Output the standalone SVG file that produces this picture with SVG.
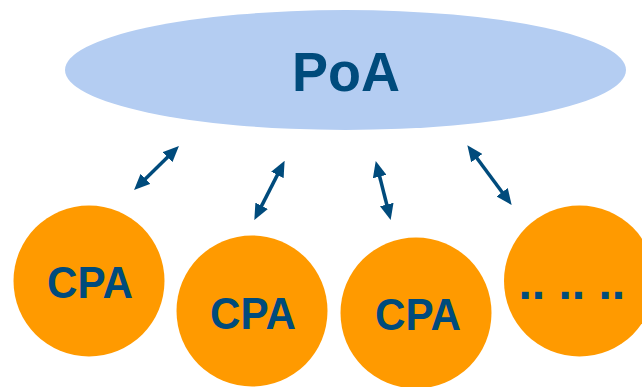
<svg xmlns="http://www.w3.org/2000/svg" width="642" height="387" viewBox="0 0 642 387">
  <style>
    .poa { fill: #b4cdf2; }
    .cpa { fill: #ff9a00; }
    .lbl { font-family: "Liberation Sans", Arial, sans-serif; font-weight: bold; fill: #004b7c; }
    .conn { stroke: #004b7c; stroke-width: 3.5; fill: none; marker-start: url(#ah); marker-end: url(#ah); }
  </style>
  <defs>
    <marker id="ah" markerUnits="userSpaceOnUse" markerWidth="16" markerHeight="14" refX="6" refY="7" orient="auto-start-reverse" viewBox="0 0 16 14">
      <path d="M0,0 L16,7 L0,14 z" fill="#004b7c"/>
    </marker>
  </defs>
  <rect width="642" height="387" fill="#ffffff"/>
  <g id="node-poa">
    <ellipse class="poa" cx="345.5" cy="70" rx="280.5" ry="60"/>
    <text class="lbl" x="346" y="91" font-size="56" text-anchor="middle" textLength="108" lengthAdjust="spacingAndGlyphs">PoA</text>
  </g>
  <g id="node-cpa1">
    <circle class="cpa" cx="89" cy="281" r="75.5"/>
    <text class="lbl" x="90" y="297.5" font-size="44" text-anchor="middle" textLength="86" lengthAdjust="spacingAndGlyphs">CPA</text>
  </g>
  <g id="node-cpa2">
    <circle class="cpa" cx="252" cy="311" r="75.5"/>
    <text class="lbl" x="253" y="328.5" font-size="44" text-anchor="middle" textLength="86" lengthAdjust="spacingAndGlyphs">CPA</text>
  </g>
  <g id="node-cpa3">
    <circle class="cpa" cx="416" cy="313" r="75.5"/>
    <text class="lbl" x="418" y="330" font-size="44" text-anchor="middle" textLength="86" lengthAdjust="spacingAndGlyphs">CPA</text>
  </g>
  <g id="node-more">
    <circle class="cpa" cx="579.5" cy="281" r="75.5"/>
    <text class="lbl" x="518.5" y="299" font-size="48" xml:space="preserve">.. .. ..</text>
  </g>
  <g id="connectors">
    <line class="conn" x1="141.2" y1="183" x2="171.8" y2="153"/>
    <line class="conn" x1="258.9" y1="211.1" x2="280.1" y2="169.6"/>
    <line class="conn" x1="388.2" y1="210.3" x2="378.2" y2="170.7"/>
    <line class="conn" x1="505.7" y1="197" x2="473.3" y2="153.3"/>
  </g>
</svg>
